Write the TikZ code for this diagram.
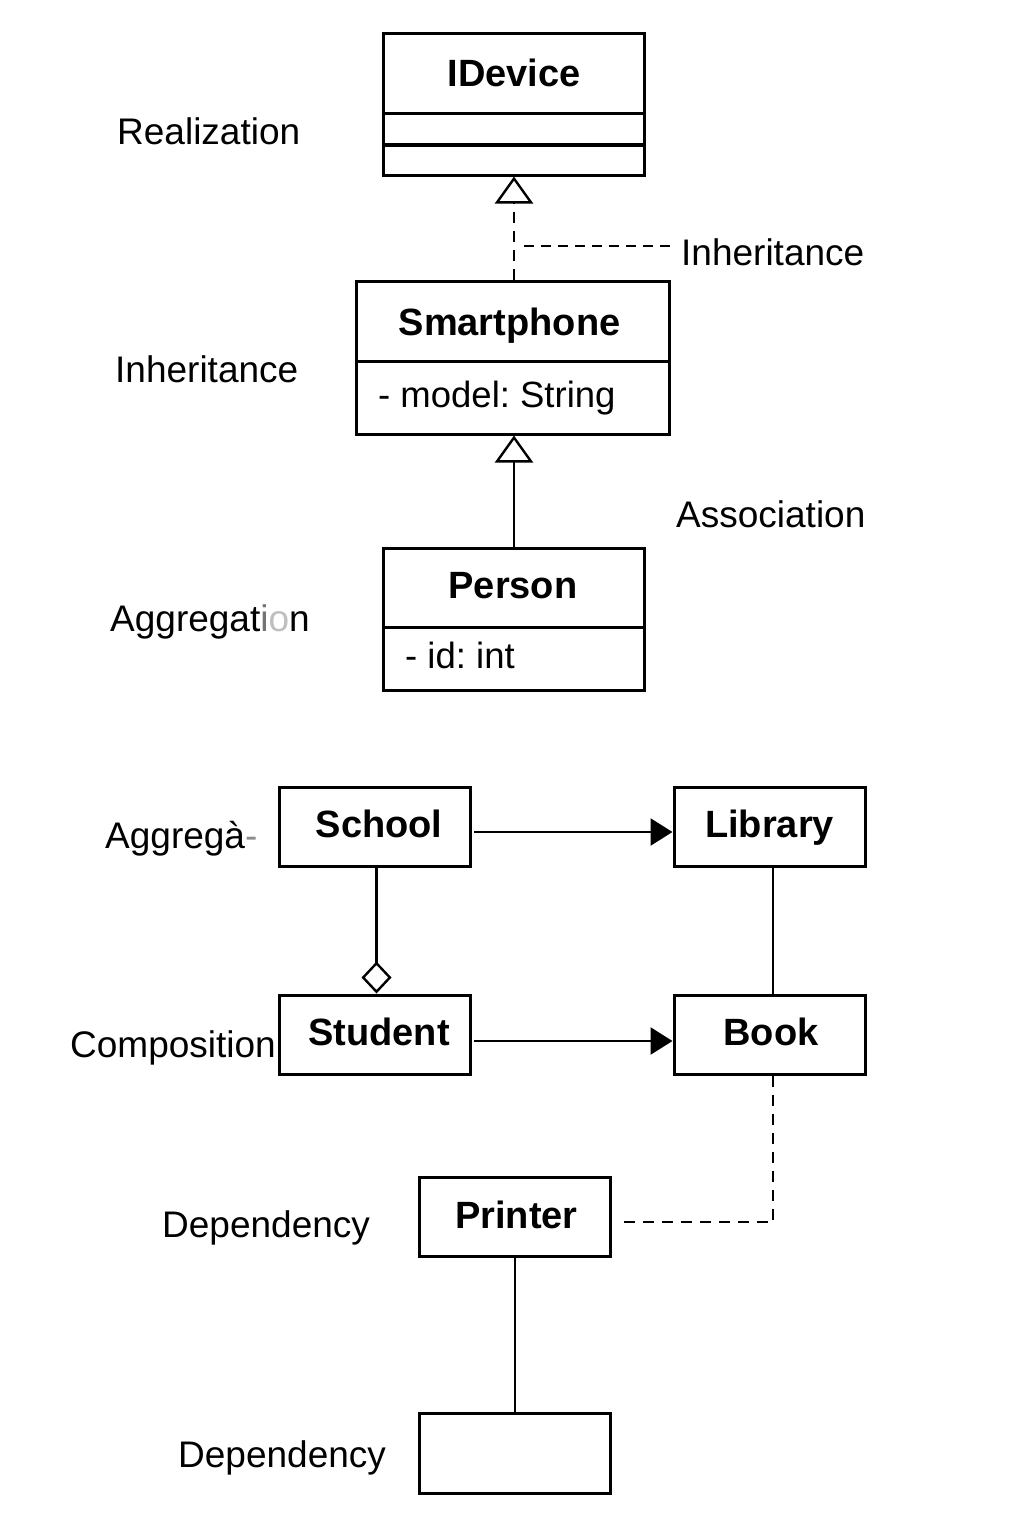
\documentclass[tikz,border=0pt]{standalone}
\usepackage{fontspec}
\setmainfont{Liberation Sans}
\usetikzlibrary{arrows.meta}
\frenchspacing
\begin{document}
\begin{tikzpicture}[x=1pt,y=-1pt,
  box/.style={draw, line width=3pt, inner sep=0pt},
  bigbox/.style={box, minimum width=261pt, minimum height=141pt},
  small/.style={box, minimum width=191pt, minimum height=79pt,
    font=\fontsize{38}{40}\selectfont\bfseries, text height=26pt, text depth=4pt},
  title/.style={font=\fontsize{38}{40}\selectfont\bfseries, inner sep=0pt, anchor=base},
  attr/.style={font=\fontsize{36.5}{40}\selectfont, inner sep=0pt, anchor=base west},
  lbl/.style={font=\fontsize{37}{40}\selectfont, inner sep=0pt, anchor=base west},
  conn/.style={line width=2.5pt},
  vdashline/.style={conn, dash pattern=on 11pt off 8pt},
  hdashline/.style={conn, dash pattern=on 10pt off 7pt},
  inh/.style={-{Triangle[open, length=27pt, width=38pt, line width=2.4pt]}},
  nav/.style={-{Triangle[length=22pt, width=27pt]}},
  agg/.style={-{Diamond[open, length=32pt, width=30pt, line width=2.4pt]}}
]
\useasboundingbox[fill=white] (0,0) rectangle (1024,1536);

% ---- class boxes (top) ----
\node[bigbox] (idev) at (513.5,104.5) {};
\draw[line width=3pt] (idev.west |- 0,114) -- (idev.east |- 0,114);
\draw[line width=3pt] (idev.west |- 0,145) -- (idev.east |- 0,145);
\node[title] (idevT) at (514,87) {IDevice};

\node[box, minimum width=313pt, minimum height=153pt] (sp) at (512.5,357.5) {};
\draw[line width=3pt] (sp.west |- 0,361) -- (sp.east |- 0,361);
\node[title] (spT) at (509.5,335) {Smartphone};
\node[attr] (spA) at (378,407) {- model: String};

\node[box, minimum width=261pt, minimum height=142pt] (per) at (513.5,619) {};
\draw[line width=3pt] (per.west |- 0,627) -- (per.east |- 0,627);
\node[title] (perT) at (513,598) {Person};
\node[attr] (perA) at (405,668) {- id: int};

% ---- class boxes (bottom) ----
\node[small] (school) at (375,826.5) {\hspace*{8pt}School};
\node[small] (lib) at (769.5,826.5) {Library};
\node[small] (stu) at (375,1034.5) {\hspace*{8pt}Student};
\node[small] (book) at (769.5,1034.5) {\hspace*{3pt}Book};
\node[small] (pr) at (515,1217) {\hspace*{3pt}Printer};
\node[small, minimum height=80pt] (blank) at (515,1453) {};

% ---- labels ----
\node[lbl] (lRea) at (117,145) {Realization};
\node[lbl] (lInh) at (115,382) {Inheritance};
\node[lbl] (lAgg) at (110,631) {Aggregat\textcolor{black!55}{i}\textcolor{black!25}{o}n};
\node[lbl] (lAgg2) at (105,848) {Aggregà\textcolor{black!45}{-}};
\node[lbl] (lCom) at (70,1057) {Composition};
\node[lbl] (lDep) at (162,1237) {Dependency};
\node[lbl] (lDep2) at (178,1467) {Dependency};
\node[lbl] (lAss) at (676,527) {Association};
\node[lbl] (lInhR) at (681,265) {Inheritance};

% ---- connectors ----
\draw[vdashline, inh] ([xshift=1.5pt]sp.north) -- ([xshift=1.5pt]sp.north |- idev.south);
\coordinate (inhJ) at (524,246);
\draw[hdashline] (inhJ) -- ([xshift=-9pt]inhJ -| lInhR.west);
\draw[conn, inh] ([xshift=0.5pt]per.north) -- ([xshift=0.5pt]per.north |- sp.south);

\draw[conn, nav] ([xshift=2pt,yshift=-5.5pt]school.east) -- ([yshift=-5.5pt]lib.west);
\draw[conn, nav] ([xshift=2pt,yshift=-6.5pt]stu.east) -- ([yshift=-6.5pt]book.west);
\draw[conn, agg] ([xshift=1.5pt]school.south) -- ([xshift=1.5pt]stu.north);
\draw[conn] ([xshift=3.5pt]lib.south) -- ([xshift=3.5pt]book.north);

\coordinate (prJ) at (622,1222);
\draw[vdashline] ([xshift=3.5pt]book.south) |- (prJ);
\draw[conn] (pr.south) -- (blank.north);
\end{tikzpicture}
\end{document}
